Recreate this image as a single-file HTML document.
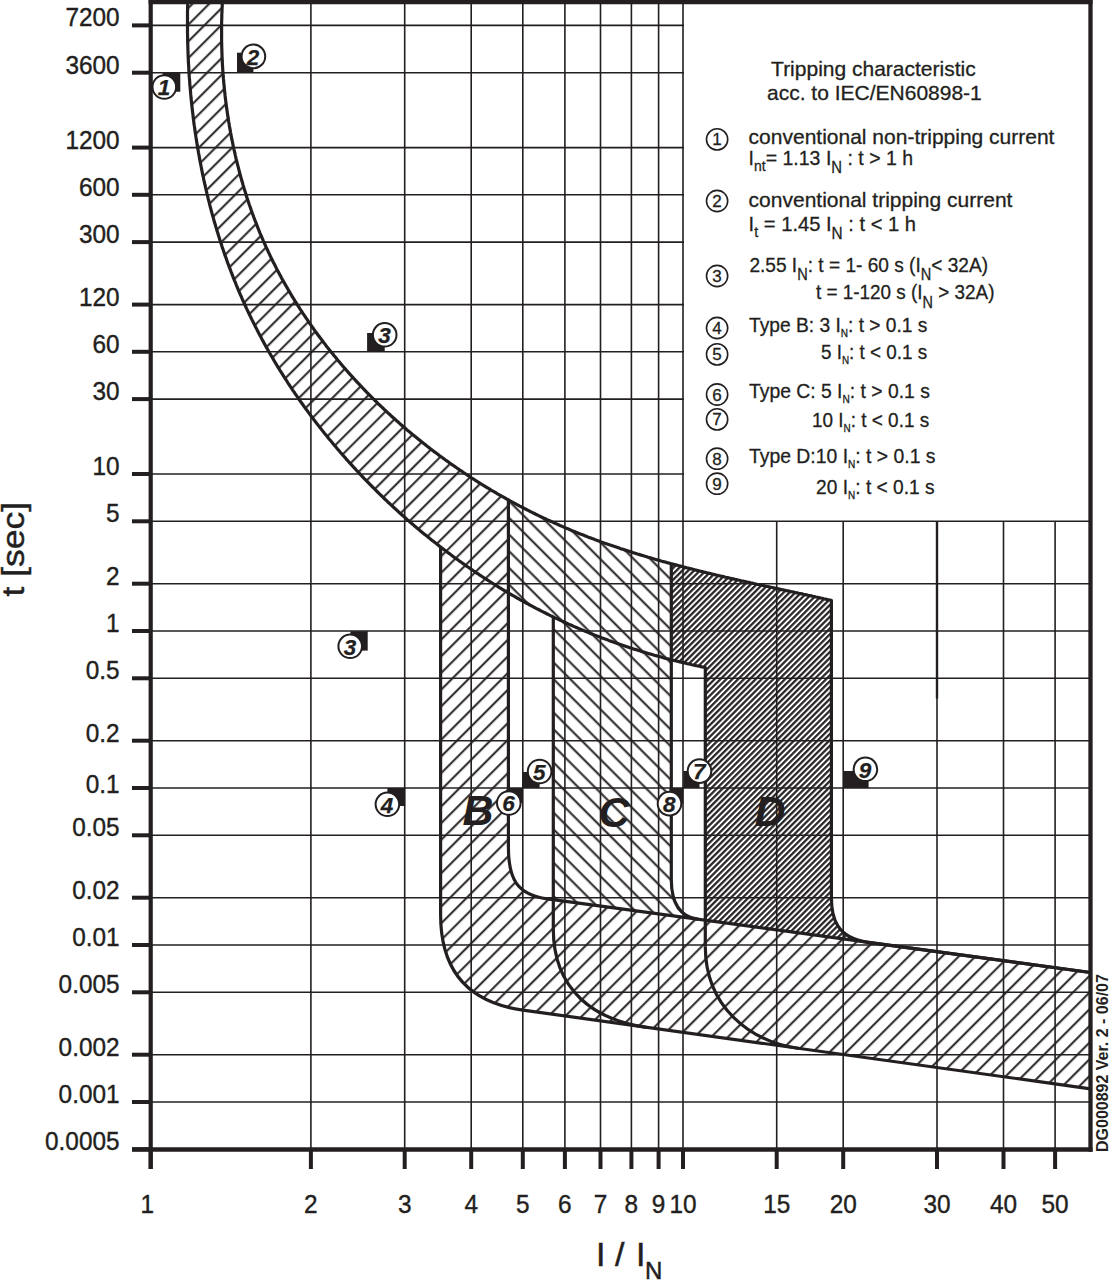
<!DOCTYPE html>
<html><head><meta charset="utf-8"><style>
html,body{margin:0;padding:0;background:#fff;width:1111px;height:1280px;overflow:hidden}
svg{display:block}
</style></head><body>
<svg width="1111" height="1280" viewBox="0 0 1111 1280">
<rect width="1111" height="1280" fill="#fff"/>
<g stroke="#231f20" stroke-width="1.6"><line x1="151" y1="25.4" x2="684" y2="25.4"/><line x1="151" y1="72.7" x2="684" y2="72.7"/><line x1="151" y1="147.6" x2="684" y2="147.6"/><line x1="151" y1="194.8" x2="684" y2="194.8"/><line x1="151" y1="242.1" x2="684" y2="242.1"/><line x1="151" y1="304.6" x2="684" y2="304.6"/><line x1="151" y1="351.8" x2="684" y2="351.8"/><line x1="151" y1="399.1" x2="684" y2="399.1"/><line x1="151" y1="474.0" x2="684" y2="474.0"/><line x1="151" y1="521.3" x2="1090.5" y2="521.3"/><line x1="151" y1="583.7" x2="1090.5" y2="583.7"/><line x1="151" y1="631.0" x2="1090.5" y2="631.0"/><line x1="151" y1="678.3" x2="1090.5" y2="678.3"/><line x1="151" y1="740.7" x2="1090.5" y2="740.7"/><line x1="151" y1="788.0" x2="1090.5" y2="788.0"/><line x1="151" y1="835.3" x2="1090.5" y2="835.3"/><line x1="151" y1="897.7" x2="1090.5" y2="897.7"/><line x1="151" y1="945.0" x2="1090.5" y2="945.0"/><line x1="151" y1="992.3" x2="1090.5" y2="992.3"/><line x1="151" y1="1054.7" x2="1090.5" y2="1054.7"/><line x1="151" y1="1102.0" x2="1090.5" y2="1102.0"/><line x1="310.9" y1="0" x2="310.9" y2="1149"/><line x1="404.7" y1="0" x2="404.7" y2="1149"/><line x1="471.2" y1="0" x2="471.2" y2="1149"/><line x1="522.8" y1="0" x2="522.8" y2="1149"/><line x1="564.9" y1="0" x2="564.9" y2="1149"/><line x1="600.5" y1="0" x2="600.5" y2="1149"/><line x1="631.4" y1="0" x2="631.4" y2="1149"/><line x1="658.6" y1="0" x2="658.6" y2="1149"/><line x1="683.0" y1="0" x2="683.0" y2="1149"/><line x1="776.7" y1="521.3" x2="776.7" y2="1149"/><line x1="843.2" y1="521.3" x2="843.2" y2="1149"/><line x1="937.0" y1="521.3" x2="937.0" y2="1149"/><line x1="1003.5" y1="521.3" x2="1003.5" y2="1149"/><line x1="1055.1" y1="521.3" x2="1055.1" y2="1149"/><line x1="937.0" y1="521.3" x2="937.0" y2="698.5" stroke-width="2.4"/></g>
<defs>
<clipPath id="cp"><rect x="151" y="3" width="939.5" height="1146"/></clipPath>
<pattern id="hA" patternUnits="userSpaceOnUse" width="11.80" height="20" patternTransform="rotate(45)">
<line x1="9.07" y1="-5" x2="9.07" y2="25" stroke="#231f20" stroke-width="2.0"/></pattern>
<pattern id="hC" patternUnits="userSpaceOnUse" width="11.80" height="20" patternTransform="rotate(-45)">
<line x1="5.58" y1="-5" x2="5.58" y2="25" stroke="#231f20" stroke-width="2.0"/></pattern>
<pattern id="hD" patternUnits="userSpaceOnUse" width="4.15" height="10" patternTransform="rotate(45)">
<line x1="2" y1="-5" x2="2" y2="15" stroke="#231f20" stroke-width="2.2"/></pattern>
</defs>
<g clip-path="url(#cp)">
<polygon points="188.0,-5.8 187.9,-4.3 187.9,-2.8 187.8,-1.2 187.8,0.3 187.7,1.8 187.7,3.4 187.7,4.9 187.6,6.4 187.6,8.0 187.6,9.5 187.5,11.0 187.5,12.6 187.5,14.1 187.5,15.7 187.5,17.2 187.5,18.7 187.5,20.3 187.5,21.8 187.5,23.4 187.5,24.9 187.5,26.4 187.5,28.0 187.5,29.5 187.5,31.1 187.5,32.6 187.5,34.1 187.6,35.7 187.6,37.2 187.6,38.8 187.6,40.3 187.7,41.9 187.7,43.4 187.8,45.0 187.8,46.5 187.9,48.0 187.9,49.6 188.0,51.1 188.0,52.7 188.1,54.2 188.1,55.8 188.2,57.3 188.3,58.9 188.3,60.4 188.4,61.9 188.5,63.5 188.6,65.0 188.7,66.6 188.8,68.1 188.8,69.7 188.9,71.2 189.0,72.8 189.1,74.3 189.2,75.9 189.3,77.4 189.5,78.9 189.6,80.5 189.7,82.0 189.8,83.6 189.9,85.1 190.1,86.7 190.2,88.2 190.3,89.8 190.5,91.3 190.6,92.8 190.7,94.4 190.9,95.9 191.0,97.5 191.2,99.0 191.3,100.6 191.5,102.1 191.6,103.6 191.8,105.2 192.0,106.7 192.2,108.3 192.3,109.8 192.5,111.3 192.7,112.9 192.9,114.4 193.1,116.0 193.2,117.5 193.4,119.0 193.6,120.6 193.8,122.1 194.0,123.7 194.2,125.2 194.5,126.7 194.7,128.3 194.9,129.8 195.1,131.3 195.3,132.9 195.6,134.4 195.8,135.9 196.0,137.5 196.3,139.0 196.5,140.5 196.7,142.1 197.0,143.6 197.2,145.1 197.5,146.7 197.7,148.2 198.0,149.7 198.3,151.3 198.5,152.8 198.8,154.3 199.1,155.8 199.4,157.4 199.6,158.9 199.9,160.4 200.2,161.9 200.5,163.5 200.8,165.0 201.1,166.5 201.4,168.0 201.7,169.6 202.0,171.1 202.3,172.6 202.6,174.1 202.9,175.6 203.3,177.2 203.6,178.7 203.9,180.2 204.2,181.7 204.6,183.2 204.9,184.7 205.3,186.2 205.6,187.8 206.0,189.3 206.3,190.8 206.7,192.3 207.0,193.8 207.4,195.3 207.8,196.8 208.1,198.3 208.5,199.8 208.9,201.3 209.3,202.8 209.6,204.3 210.0,205.8 210.4,207.3 210.8,208.8 211.2,210.3 211.6,211.8 212.0,213.3 212.4,214.8 212.8,216.3 213.3,217.8 213.7,219.3 214.1,220.8 214.5,222.3 215.0,223.7 215.4,225.2 215.8,226.7 216.3,228.2 216.7,229.7 217.2,231.2 217.6,232.6 218.1,234.1 218.5,235.6 219.0,237.1 219.5,238.5 219.9,240.0 220.4,241.5 220.9,243.0 221.4,244.4 221.8,245.9 222.3,247.4 222.8,248.8 223.3,250.3 223.8,251.8 224.3,253.2 224.8,254.7 225.3,256.2 225.9,257.6 226.4,259.1 226.9,260.5 227.4,262.0 227.9,263.4 228.5,264.9 229.0,266.3 229.6,267.8 230.1,269.2 230.7,270.7 231.2,272.1 231.8,273.6 232.3,275.0 232.9,276.4 233.4,277.9 234.0,279.3 234.6,280.8 235.2,282.2 235.8,283.6 236.3,285.0 236.9,286.5 237.5,287.9 238.1,289.3 238.7,290.8 239.3,292.2 239.9,293.6 240.5,295.0 241.2,296.4 241.8,297.8 242.4,299.3 243.0,300.7 243.7,302.1 244.3,303.5 244.9,304.9 245.6,306.3 246.2,307.7 246.9,309.1 247.5,310.5 248.2,311.9 248.8,313.3 249.5,314.7 250.2,316.1 250.9,317.5 251.5,318.9 252.2,320.3 252.9,321.6 253.6,323.0 254.3,324.4 255.0,325.8 255.7,327.2 256.4,328.5 257.1,329.9 257.8,331.3 258.5,332.7 259.2,334.0 259.9,335.4 260.7,336.8 261.4,338.1 262.1,339.5 262.9,340.8 263.6,342.2 264.3,343.6 265.1,344.9 265.8,346.3 266.6,347.6 267.4,349.0 268.1,350.3 268.9,351.7 269.6,353.0 270.4,354.3 271.2,355.7 272.0,357.0 272.8,358.3 273.5,359.7 274.3,361.0 275.1,362.3 275.9,363.7 276.7,365.0 277.5,366.3 278.3,367.6 279.1,368.9 279.9,370.3 280.8,371.6 281.6,372.9 282.4,374.2 283.2,375.5 284.1,376.8 284.9,378.1 285.7,379.4 286.6,380.7 287.4,382.0 288.2,383.3 289.1,384.6 289.9,385.9 290.8,387.2 291.7,388.5 292.5,389.8 293.4,391.1 294.3,392.3 295.1,393.6 296.0,394.9 296.9,396.2 297.8,397.4 298.6,398.7 299.5,400.0 300.4,401.3 301.3,402.5 302.2,403.8 303.1,405.0 304.0,406.3 304.9,407.6 305.8,408.8 306.7,410.1 307.7,411.3 308.6,412.6 309.5,413.8 310.4,415.0 311.3,416.3 312.3,417.5 313.2,418.8 314.1,420.0 315.1,421.2 316.0,422.5 317.0,423.7 317.9,424.9 318.9,426.1 319.8,427.4 320.8,428.6 321.7,429.8 322.7,431.0 323.7,432.2 324.6,433.4 325.6,434.6 326.6,435.8 327.6,437.0 328.5,438.2 329.5,439.4 330.5,440.6 331.5,441.8 332.5,443.0 333.5,444.2 334.5,445.4 335.5,446.6 336.5,447.8 337.5,449.0 338.5,450.1 339.5,451.3 340.5,452.5 341.5,453.6 342.5,454.8 343.6,456.0 344.6,457.1 345.6,458.3 346.6,459.5 347.7,460.6 348.7,461.8 349.7,462.9 350.8,464.1 351.8,465.2 352.9,466.4 353.9,467.5 355.0,468.6 356.0,469.8 357.1,470.9 358.1,472.1 359.2,473.2 360.2,474.3 361.3,475.4 362.4,476.6 363.4,477.7 364.5,478.8 365.6,479.9 366.7,481.0 367.8,482.1 368.8,483.2 369.9,484.3 371.0,485.4 372.1,486.5 373.2,487.6 374.3,488.7 375.4,489.8 376.5,490.9 377.6,492.0 378.7,493.1 379.8,494.2 380.9,495.3 382.0,496.3 383.1,497.4 384.2,498.5 385.3,499.5 386.5,500.6 387.6,501.7 388.7,502.7 389.8,503.8 391.0,504.9 392.1,505.9 393.2,507.0 394.4,508.0 395.5,509.1 396.7,510.1 397.8,511.1 398.9,512.2 400.1,513.2 401.2,514.2 402.4,515.3 403.5,516.3 404.7,517.3 405.9,518.4 407.0,519.4 408.2,520.4 409.3,521.4 410.5,522.4 411.7,523.4 412.9,524.4 414.0,525.4 415.2,526.4 416.4,527.4 417.6,528.4 418.8,529.4 419.9,530.4 421.1,531.4 422.3,532.4 423.5,533.4 424.7,534.4 425.9,535.3 427.1,536.3 428.3,537.3 429.5,538.3 430.7,539.2 431.9,540.2 433.1,541.1 434.3,542.1 435.6,543.1 436.8,544.0 438.0,545.0 439.2,545.9 440.4,546.9 440.6,547.0 440.6,914.8 440.6,914.8 440.7,919.4 440.9,923.9 441.2,928.2 441.6,932.4 442.2,936.5 442.8,940.5 443.6,944.4 444.5,948.1 445.6,951.7 446.7,955.2 448.0,958.5 449.3,961.8 450.8,964.9 452.4,968.0 454.1,970.9 455.9,973.7 457.8,976.4 459.8,978.9 461.9,981.4 464.1,983.8 466.4,986.0 468.8,988.2 471.3,990.3 473.9,992.2 476.5,994.1 479.3,995.8 482.2,997.5 485.1,999.0 488.1,1000.5 491.3,1001.9 494.5,1003.1 497.7,1004.3 501.1,1005.4 504.6,1006.4 508.1,1007.3 511.7,1008.2 515.4,1008.9 519.1,1009.6 522.9,1010.1 1090.5,1088.8 1090.5,972.5 547.3,898.8 544.9,898.4 542.7,898.0 540.5,897.6 538.5,897.1 536.5,896.6 534.6,896.0 532.8,895.3 531.0,894.6 529.4,893.9 527.8,893.1 526.3,892.3 524.8,891.4 523.5,890.4 522.2,889.5 520.9,888.4 519.8,887.3 518.7,886.2 517.7,885.0 516.7,883.7 515.8,882.4 515.0,881.0 514.2,879.6 513.5,878.1 512.8,876.6 512.2,875.0 511.6,873.4 511.1,871.7 510.6,869.9 510.2,868.1 509.9,866.2 509.5,864.3 509.3,862.3 509.0,860.3 508.8,858.2 508.7,856.0 508.5,853.8 508.5,851.5 508.4,849.2 508.4,846.8 508.4,499.9 508.4,499.9 507.2,499.3 505.8,498.5 504.4,497.7 503.0,496.9 501.7,496.2 500.3,495.4 498.9,494.6 497.5,493.8 496.2,493.0 494.8,492.2 493.4,491.4 492.0,490.6 490.7,489.8 489.3,488.9 488.0,488.1 486.6,487.3 485.2,486.5 483.9,485.6 482.5,484.8 481.2,484.0 479.8,483.1 478.5,482.3 477.1,481.4 475.8,480.6 474.5,479.7 473.1,478.8 471.8,478.0 470.5,477.1 469.1,476.2 467.8,475.4 466.5,474.5 465.1,473.6 463.8,472.7 462.5,471.8 461.2,470.9 459.8,470.0 458.5,469.1 457.2,468.2 455.9,467.3 454.6,466.4 453.3,465.5 452.0,464.6 450.7,463.7 449.4,462.8 448.1,461.8 446.8,460.9 445.5,460.0 444.2,459.0 442.9,458.1 441.6,457.1 440.3,456.2 439.0,455.3 437.8,454.3 436.5,453.3 435.2,452.4 433.9,451.4 432.7,450.5 431.4,449.5 430.1,448.5 428.9,447.5 427.6,446.6 426.3,445.6 425.1,444.6 423.8,443.6 422.6,442.6 421.3,441.6 420.1,440.6 418.8,439.6 417.6,438.6 416.4,437.6 415.1,436.6 413.9,435.5 412.6,434.5 411.4,433.5 410.2,432.5 409.0,431.4 407.7,430.4 406.5,429.4 405.3,428.3 404.1,427.3 402.9,426.3 401.7,425.2 400.5,424.2 399.3,423.1 398.1,422.0 396.9,421.0 395.7,419.9 394.5,418.8 393.3,417.8 392.1,416.7 390.9,415.6 389.8,414.5 388.6,413.5 387.4,412.4 386.2,411.3 385.1,410.2 383.9,409.1 382.8,408.0 381.6,406.9 380.4,405.8 379.3,404.7 378.1,403.6 377.0,402.4 375.9,401.3 374.7,400.2 373.6,399.1 372.4,398.0 371.3,396.8 370.2,395.7 369.1,394.6 367.9,393.4 366.8,392.3 365.7,391.1 364.6,390.0 363.5,388.8 362.4,387.7 361.3,386.5 360.2,385.4 359.1,384.2 358.0,383.0 356.9,381.9 355.8,380.7 354.8,379.5 353.7,378.3 352.6,377.1 351.5,376.0 350.5,374.8 349.4,373.6 348.3,372.4 347.3,371.2 346.2,370.0 345.2,368.8 344.1,367.6 343.1,366.4 342.1,365.2 341.0,363.9 340.0,362.7 339.0,361.5 337.9,360.3 336.9,359.1 335.9,357.8 334.9,356.6 333.9,355.4 332.9,354.1 331.9,352.9 330.9,351.7 329.9,350.4 328.9,349.2 327.9,347.9 326.9,346.7 325.9,345.4 325.0,344.1 324.0,342.9 323.0,341.6 322.1,340.3 321.1,339.1 320.1,337.8 319.2,336.5 318.2,335.2 317.3,334.0 316.4,332.7 315.4,331.4 314.5,330.1 313.6,328.8 312.6,327.5 311.7,326.2 310.8,324.9 309.9,323.6 309.0,322.3 308.1,321.0 307.2,319.7 306.3,318.4 305.4,317.0 304.5,315.7 303.6,314.4 302.7,313.1 301.9,311.7 301.0,310.4 300.1,309.1 299.3,307.7 298.4,306.4 297.6,305.1 296.7,303.7 295.9,302.4 295.0,301.0 294.2,299.7 293.4,298.3 292.5,297.0 291.7,295.6 290.9,294.2 290.1,292.9 289.3,291.5 288.5,290.1 287.7,288.8 286.9,287.4 286.1,286.0 285.3,284.6 284.5,283.2 283.7,281.9 283.0,280.5 282.2,279.1 281.4,277.7 280.7,276.3 279.9,274.9 279.2,273.5 278.4,272.1 277.7,270.7 276.9,269.3 276.2,267.9 275.5,266.4 274.8,265.0 274.1,263.6 273.3,262.2 272.6,260.8 271.9,259.3 271.2,257.9 270.5,256.5 269.9,255.1 269.2,253.6 268.5,252.2 267.8,250.7 267.2,249.3 266.5,247.9 265.8,246.4 265.2,245.0 264.5,243.5 263.9,242.0 263.2,240.6 262.6,239.1 262.0,237.7 261.4,236.2 260.7,234.7 260.1,233.3 259.5,231.8 258.9,230.3 258.3,228.8 257.7,227.4 257.1,225.9 256.6,224.4 256.0,222.9 255.4,221.4 254.8,219.9 254.3,218.5 253.7,217.0 253.2,215.5 252.6,214.0 252.1,212.5 251.5,211.0 251.0,209.5 250.5,208.0 250.0,206.5 249.4,205.0 248.9,203.4 248.4,201.9 247.9,200.4 247.4,198.9 246.9,197.4 246.4,195.9 245.9,194.3 245.5,192.8 245.0,191.3 244.5,189.8 244.0,188.2 243.6,186.7 243.1,185.2 242.7,183.6 242.2,182.1 241.8,180.6 241.4,179.0 240.9,177.5 240.5,176.0 240.1,174.4 239.7,172.9 239.3,171.3 238.9,169.8 238.5,168.2 238.1,166.7 237.7,165.1 237.3,163.6 236.9,162.0 236.5,160.5 236.1,158.9 235.8,157.4 235.4,155.8 235.1,154.2 234.7,152.7 234.4,151.1 234.0,149.6 233.7,148.0 233.3,146.4 233.0,144.9 232.7,143.3 232.4,141.7 232.0,140.2 231.7,138.6 231.4,137.0 231.1,135.4 230.8,133.9 230.5,132.3 230.3,130.7 230.0,129.1 229.7,127.6 229.4,126.0 229.2,124.4 228.9,122.8 228.6,121.3 228.4,119.7 228.1,118.1 227.9,116.5 227.6,114.9 227.4,113.3 227.2,111.8 227.0,110.2 226.7,108.6 226.5,107.0 226.3,105.4 226.1,103.8 225.9,102.2 225.7,100.7 225.5,99.1 225.3,97.5 225.1,95.9 225.0,94.3 224.8,92.7 224.6,91.1 224.4,89.5 224.3,87.9 224.1,86.3 224.0,84.7 223.8,83.1 223.7,81.6 223.6,80.0 223.4,78.4 223.3,76.8 223.2,75.2 223.0,73.6 222.9,72.0 222.8,70.4 222.7,68.8 222.6,67.2 222.5,65.6 222.4,64.0 222.3,62.4 222.3,60.8 222.2,59.2 222.1,57.6 222.0,56.0 222.0,54.4 221.9,52.9 221.9,51.3 221.8,49.7 221.8,48.1 221.7,46.5 221.7,44.9 221.7,43.3 221.6,41.7 221.6,40.1 221.6,38.5 221.6,36.9 221.6,35.3 221.6,33.7 221.6,32.1 221.6,30.6 221.6,29.0 221.6,27.4 221.6,25.8 221.6,24.2 221.6,22.6 221.7,21.0 221.7,19.4 221.8,17.8 221.8,16.3 221.8,14.7 221.9,13.1 222.0,11.5 222.0,9.9 222.1,8.3 222.2,6.7 222.2,5.2 222.3,3.6 222.4,2.0 222.5,0.4 222.6,-1.2 222.7,-2.7 222.8,-4.3 222.9,-5.9" fill="url(#hA)"/>
<polygon points="508.4,592.9 509.6,593.6 510.9,594.4 512.2,595.2 513.6,595.9 514.9,596.7 516.3,597.5 517.6,598.3 519.0,599.0 520.3,599.8 521.7,600.5 523.0,601.3 524.4,602.0 525.7,602.8 527.1,603.5 528.4,604.2 529.8,605.0 531.2,605.7 532.5,606.4 533.9,607.2 535.3,607.9 536.6,608.6 538.0,609.3 539.4,610.0 540.7,610.7 542.1,611.4 543.5,612.1 544.9,612.8 546.3,613.5 547.7,614.2 549.0,614.9 550.4,615.6 551.8,616.2 553.2,616.9 553.3,617.0 553.3,899.6 698.2,919.3 696.7,919.0 695.2,918.7 693.8,918.4 692.4,918.0 691.1,917.6 689.8,917.1 688.6,916.5 687.4,915.9 686.3,915.3 685.2,914.6 684.2,913.9 683.2,913.1 682.3,912.3 681.4,911.5 680.5,910.6 679.7,909.6 678.9,908.7 678.2,907.7 677.5,906.6 676.9,905.5 676.3,904.4 675.7,903.3 675.2,902.1 674.7,900.9 674.2,899.6 673.8,898.3 673.4,897.0 673.1,895.7 672.7,894.3 672.5,892.9 672.2,891.5 672.0,890.1 671.8,888.6 671.6,887.1 671.5,885.6 671.4,884.1 671.4,882.5 671.3,881.0 671.3,879.4 671.3,563.7 671.3,563.7 671.2,563.7 669.7,563.3 668.1,562.9 666.6,562.4 665.0,562.0 663.5,561.6 661.9,561.2 660.4,560.7 658.9,560.3 657.3,559.9 655.8,559.4 654.3,559.0 652.7,558.5 651.2,558.1 649.7,557.6 648.1,557.2 646.6,556.7 645.1,556.3 643.5,555.8 642.0,555.4 640.5,554.9 638.9,554.4 637.4,554.0 635.9,553.5 634.4,553.0 632.9,552.6 631.3,552.1 629.8,551.6 628.3,551.1 626.8,550.6 625.3,550.1 623.7,549.6 622.2,549.1 620.7,548.7 619.2,548.1 617.7,547.6 616.2,547.1 614.7,546.6 613.2,546.1 611.7,545.6 610.2,545.1 608.6,544.5 607.1,544.0 605.6,543.5 604.1,543.0 602.6,542.4 601.1,541.9 599.7,541.3 598.2,540.8 596.7,540.2 595.2,539.7 593.7,539.1 592.2,538.6 590.7,538.0 589.2,537.4 587.7,536.9 586.3,536.3 584.8,535.7 583.3,535.1 581.8,534.5 580.3,534.0 578.9,533.4 577.4,532.8 575.9,532.2 574.4,531.6 573.0,531.0 571.5,530.4 570.0,529.7 568.6,529.1 567.1,528.5 565.6,527.9 564.2,527.3 562.7,526.6 561.3,526.0 559.8,525.4 558.4,524.7 556.9,524.1 555.5,523.4 554.0,522.8 552.6,522.1 551.1,521.5 549.7,520.8 548.2,520.1 546.8,519.5 545.3,518.8 543.9,518.1 542.5,517.4 541.0,516.8 539.6,516.1 538.2,515.4 536.8,514.7 535.3,514.0 533.9,513.3 532.5,512.6 531.1,511.9 529.6,511.2 528.2,510.4 526.8,509.7 525.4,509.0 524.0,508.3 522.6,507.5 521.2,506.8 519.8,506.1 518.4,505.3 517.0,504.6 515.6,503.8 514.2,503.1 512.8,502.3 511.4,501.6 510.0,500.8 508.6,500.0 508.4,499.9" fill="url(#hC)"/>
<polygon points="671.3,659.8 672.3,660.0 673.8,660.4 675.3,660.8 676.8,661.1 678.3,661.5 679.8,661.9 681.3,662.2 682.8,662.6 684.3,663.0 685.8,663.3 687.3,663.7 688.8,664.0 690.3,664.3 691.8,664.7 693.3,665.0 694.9,665.4 696.4,665.7 697.9,666.0 699.4,666.3 700.9,666.6 702.4,667.0 703.9,667.3 705.3,667.5 705.3,920.2 867.8,942.3 865.4,941.9 863.2,941.5 861.0,941.0 859.0,940.5 857.0,939.9 855.1,939.3 853.3,938.6 851.7,937.8 850.1,937.0 848.5,936.2 847.1,935.3 845.7,934.3 844.5,933.3 843.3,932.3 842.1,931.2 841.1,930.1 840.1,929.0 839.1,927.8 838.3,926.6 837.5,925.3 836.7,924.0 836.1,922.7 835.4,921.4 834.9,920.0 834.4,918.6 833.9,917.2 833.5,915.7 833.1,914.3 832.8,912.8 832.5,911.3 832.2,909.8 832.0,908.2 831.8,906.7 831.7,905.1 831.6,903.6 831.5,902.0 831.4,900.4 831.4,898.8 831.4,897.2 831.4,600.4 831.4,600.4 831.3,600.4 829.8,600.0 828.3,599.7 826.7,599.4 825.2,599.0 823.6,598.7 822.1,598.3 820.5,598.0 819.0,597.6 817.4,597.3 815.9,597.0 814.4,596.6 812.8,596.3 811.3,595.9 809.7,595.6 808.2,595.3 806.6,594.9 805.1,594.6 803.5,594.3 802.0,593.9 800.4,593.6 798.8,593.3 797.3,592.9 795.7,592.6 794.2,592.2 792.6,591.9 791.1,591.6 789.5,591.2 788.0,590.9 786.4,590.6 784.8,590.2 783.3,589.9 781.7,589.6 780.2,589.2 778.6,588.9 777.1,588.6 775.5,588.2 773.9,587.9 772.4,587.5 770.8,587.2 769.3,586.9 767.7,586.5 766.1,586.2 764.6,585.9 763.0,585.5 761.5,585.2 759.9,584.8 758.3,584.5 756.8,584.2 755.2,583.8 753.7,583.5 752.1,583.1 750.5,582.8 749.0,582.4 747.4,582.1 745.9,581.7 744.3,581.4 742.7,581.0 741.2,580.7 739.6,580.3 738.0,580.0 736.5,579.6 734.9,579.3 733.4,578.9 731.8,578.6 730.2,578.2 728.7,577.9 727.1,577.5 725.6,577.2 724.0,576.8 722.4,576.4 720.9,576.1 719.3,575.7 717.8,575.3 716.2,575.0 714.7,574.6 713.1,574.2 711.5,573.9 710.0,573.5 708.4,573.1 706.9,572.8 705.3,572.4 703.8,572.0 702.2,571.6 700.6,571.2 699.1,570.9 697.5,570.5 696.0,570.1 694.4,569.7 692.9,569.3 691.3,568.9 689.8,568.5 688.2,568.1 686.7,567.8 685.1,567.4 683.6,567.0 682.0,566.6 680.5,566.1 678.9,565.7 677.4,565.3 675.8,564.9 674.3,564.5 672.7,564.1 671.3,563.7" fill="url(#hD)"/>
</g>
<g clip-path="url(#cp)" fill="none" stroke="#231f20" stroke-width="3.2" stroke-linejoin="round"><polyline points="188.0,-5.8 187.9,-4.3 187.9,-2.8 187.8,-1.2 187.8,0.3 187.7,1.8 187.7,3.4 187.7,4.9 187.6,6.4 187.6,8.0 187.6,9.5 187.5,11.0 187.5,12.6 187.5,14.1 187.5,15.7 187.5,17.2 187.5,18.7 187.5,20.3 187.5,21.8 187.5,23.4 187.5,24.9 187.5,26.4 187.5,28.0 187.5,29.5 187.5,31.1 187.5,32.6 187.5,34.1 187.6,35.7 187.6,37.2 187.6,38.8 187.6,40.3 187.7,41.9 187.7,43.4 187.8,45.0 187.8,46.5 187.9,48.0 187.9,49.6 188.0,51.1 188.0,52.7 188.1,54.2 188.1,55.8 188.2,57.3 188.3,58.9 188.3,60.4 188.4,61.9 188.5,63.5 188.6,65.0 188.7,66.6 188.8,68.1 188.8,69.7 188.9,71.2 189.0,72.8 189.1,74.3 189.2,75.9 189.3,77.4 189.5,78.9 189.6,80.5 189.7,82.0 189.8,83.6 189.9,85.1 190.1,86.7 190.2,88.2 190.3,89.8 190.5,91.3 190.6,92.8 190.7,94.4 190.9,95.9 191.0,97.5 191.2,99.0 191.3,100.6 191.5,102.1 191.6,103.6 191.8,105.2 192.0,106.7 192.2,108.3 192.3,109.8 192.5,111.3 192.7,112.9 192.9,114.4 193.1,116.0 193.2,117.5 193.4,119.0 193.6,120.6 193.8,122.1 194.0,123.7 194.2,125.2 194.5,126.7 194.7,128.3 194.9,129.8 195.1,131.3 195.3,132.9 195.6,134.4 195.8,135.9 196.0,137.5 196.3,139.0 196.5,140.5 196.7,142.1 197.0,143.6 197.2,145.1 197.5,146.7 197.7,148.2 198.0,149.7 198.3,151.3 198.5,152.8 198.8,154.3 199.1,155.8 199.4,157.4 199.6,158.9 199.9,160.4 200.2,161.9 200.5,163.5 200.8,165.0 201.1,166.5 201.4,168.0 201.7,169.6 202.0,171.1 202.3,172.6 202.6,174.1 202.9,175.6 203.3,177.2 203.6,178.7 203.9,180.2 204.2,181.7 204.6,183.2 204.9,184.7 205.3,186.2 205.6,187.8 206.0,189.3 206.3,190.8 206.7,192.3 207.0,193.8 207.4,195.3 207.8,196.8 208.1,198.3 208.5,199.8 208.9,201.3 209.3,202.8 209.6,204.3 210.0,205.8 210.4,207.3 210.8,208.8 211.2,210.3 211.6,211.8 212.0,213.3 212.4,214.8 212.8,216.3 213.3,217.8 213.7,219.3 214.1,220.8 214.5,222.3 215.0,223.7 215.4,225.2 215.8,226.7 216.3,228.2 216.7,229.7 217.2,231.2 217.6,232.6 218.1,234.1 218.5,235.6 219.0,237.1 219.5,238.5 219.9,240.0 220.4,241.5 220.9,243.0 221.4,244.4 221.8,245.9 222.3,247.4 222.8,248.8 223.3,250.3 223.8,251.8 224.3,253.2 224.8,254.7 225.3,256.2 225.9,257.6 226.4,259.1 226.9,260.5 227.4,262.0 227.9,263.4 228.5,264.9 229.0,266.3 229.6,267.8 230.1,269.2 230.7,270.7 231.2,272.1 231.8,273.6 232.3,275.0 232.9,276.4 233.4,277.9 234.0,279.3 234.6,280.8 235.2,282.2 235.8,283.6 236.3,285.0 236.9,286.5 237.5,287.9 238.1,289.3 238.7,290.8 239.3,292.2 239.9,293.6 240.5,295.0 241.2,296.4 241.8,297.8 242.4,299.3 243.0,300.7 243.7,302.1 244.3,303.5 244.9,304.9 245.6,306.3 246.2,307.7 246.9,309.1 247.5,310.5 248.2,311.9 248.8,313.3 249.5,314.7 250.2,316.1 250.9,317.5 251.5,318.9 252.2,320.3 252.9,321.6 253.6,323.0 254.3,324.4 255.0,325.8 255.7,327.2 256.4,328.5 257.1,329.9 257.8,331.3 258.5,332.7 259.2,334.0 259.9,335.4 260.7,336.8 261.4,338.1 262.1,339.5 262.9,340.8 263.6,342.2 264.3,343.6 265.1,344.9 265.8,346.3 266.6,347.6 267.4,349.0 268.1,350.3 268.9,351.7 269.6,353.0 270.4,354.3 271.2,355.7 272.0,357.0 272.8,358.3 273.5,359.7 274.3,361.0 275.1,362.3 275.9,363.7 276.7,365.0 277.5,366.3 278.3,367.6 279.1,368.9 279.9,370.3 280.8,371.6 281.6,372.9 282.4,374.2 283.2,375.5 284.1,376.8 284.9,378.1 285.7,379.4 286.6,380.7 287.4,382.0 288.2,383.3 289.1,384.6 289.9,385.9 290.8,387.2 291.7,388.5 292.5,389.8 293.4,391.1 294.3,392.3 295.1,393.6 296.0,394.9 296.9,396.2 297.8,397.4 298.6,398.7 299.5,400.0 300.4,401.3 301.3,402.5 302.2,403.8 303.1,405.0 304.0,406.3 304.9,407.6 305.8,408.8 306.7,410.1 307.7,411.3 308.6,412.6 309.5,413.8 310.4,415.0 311.3,416.3 312.3,417.5 313.2,418.8 314.1,420.0 315.1,421.2 316.0,422.5 317.0,423.7 317.9,424.9 318.9,426.1 319.8,427.4 320.8,428.6 321.7,429.8 322.7,431.0 323.7,432.2 324.6,433.4 325.6,434.6 326.6,435.8 327.6,437.0 328.5,438.2 329.5,439.4 330.5,440.6 331.5,441.8 332.5,443.0 333.5,444.2 334.5,445.4 335.5,446.6 336.5,447.8 337.5,449.0 338.5,450.1 339.5,451.3 340.5,452.5 341.5,453.6 342.5,454.8 343.6,456.0 344.6,457.1 345.6,458.3 346.6,459.5 347.7,460.6 348.7,461.8 349.7,462.9 350.8,464.1 351.8,465.2 352.9,466.4 353.9,467.5 355.0,468.6 356.0,469.8 357.1,470.9 358.1,472.1 359.2,473.2 360.2,474.3 361.3,475.4 362.4,476.6 363.4,477.7 364.5,478.8 365.6,479.9 366.7,481.0 367.8,482.1 368.8,483.2 369.9,484.3 371.0,485.4 372.1,486.5 373.2,487.6 374.3,488.7 375.4,489.8 376.5,490.9 377.6,492.0 378.7,493.1 379.8,494.2 380.9,495.3 382.0,496.3 383.1,497.4 384.2,498.5 385.3,499.5 386.5,500.6 387.6,501.7 388.7,502.7 389.8,503.8 391.0,504.9 392.1,505.9 393.2,507.0 394.4,508.0 395.5,509.1 396.7,510.1 397.8,511.1 398.9,512.2 400.1,513.2 401.2,514.2 402.4,515.3 403.5,516.3 404.7,517.3 405.9,518.4 407.0,519.4 408.2,520.4 409.3,521.4 410.5,522.4 411.7,523.4 412.9,524.4 414.0,525.4 415.2,526.4 416.4,527.4 417.6,528.4 418.8,529.4 419.9,530.4 421.1,531.4 422.3,532.4 423.5,533.4 424.7,534.4 425.9,535.3 427.1,536.3 428.3,537.3 429.5,538.3 430.7,539.2 431.9,540.2 433.1,541.1 434.3,542.1 435.6,543.1 436.8,544.0 438.0,545.0 439.2,545.9 440.4,546.9 441.7,547.8 442.9,548.7 444.1,549.7 445.4,550.6 446.6,551.6 447.8,552.5 449.1,553.4 450.3,554.3 451.5,555.2 452.8,556.2 454.0,557.1 455.3,558.0 456.5,558.9 457.8,559.8 459.0,560.7 460.3,561.6 461.6,562.5 462.8,563.4 464.1,564.3 465.3,565.2 466.6,566.1 467.9,567.0 469.2,567.8 470.4,568.7 471.7,569.6 473.0,570.5 474.3,571.3 475.5,572.2 476.8,573.1 478.1,573.9 479.4,574.8 480.7,575.6 482.0,576.5 483.3,577.3 484.6,578.2 485.9,579.0 487.2,579.9 488.5,580.7 489.8,581.5 491.1,582.3 492.4,583.2 493.7,584.0 495.0,584.8 496.3,585.6 497.6,586.4 499.0,587.3 500.3,588.1 501.6,588.9 502.9,589.7 504.3,590.5 505.6,591.3 506.9,592.0 508.2,592.8 509.6,593.6 510.9,594.4 512.2,595.2 513.6,595.9 514.9,596.7 516.3,597.5 517.6,598.3 519.0,599.0 520.3,599.8 521.7,600.5 523.0,601.3 524.4,602.0 525.7,602.8 527.1,603.5 528.4,604.2 529.8,605.0 531.2,605.7 532.5,606.4 533.9,607.2 535.3,607.9 536.6,608.6 538.0,609.3 539.4,610.0 540.7,610.7 542.1,611.4 543.5,612.1 544.9,612.8 546.3,613.5 547.7,614.2 549.0,614.9 550.4,615.6 551.8,616.2 553.2,616.9 554.6,617.6 556.0,618.2 557.4,618.9 558.8,619.6 560.2,620.2 561.6,620.9 563.0,621.5 564.4,622.2 565.8,622.8 567.2,623.4 568.6,624.1 570.0,624.7 571.4,625.3 572.9,626.0 574.3,626.6 575.7,627.2 577.1,627.8 578.5,628.4 580.0,629.0 581.4,629.6 582.8,630.2 584.2,630.8 585.7,631.4 587.1,632.0 588.5,632.6 590.0,633.2 591.4,633.7 592.8,634.3 594.3,634.9 595.7,635.4 597.1,636.0 598.6,636.6 600.0,637.1 601.5,637.7 602.9,638.2 604.4,638.8 605.8,639.3 607.3,639.8 608.7,640.4 610.2,640.9 611.6,641.4 613.1,641.9 614.5,642.5 616.0,643.0 617.5,643.5 618.9,644.0 620.4,644.5 621.8,645.0 623.3,645.5 624.8,646.0 626.2,646.5 627.7,647.0 629.2,647.5 630.6,648.0 632.1,648.4 633.6,648.9 635.1,649.4 636.5,649.8 638.0,650.3 639.5,650.8 641.0,651.2 642.4,651.7 643.9,652.1 645.4,652.6 646.9,653.0 648.4,653.5 649.9,653.9 651.3,654.3 652.8,654.7 654.3,655.2 655.8,655.6 657.3,656.0 658.8,656.4 660.3,656.8 661.8,657.2 663.3,657.7 664.8,658.1 666.3,658.5 667.8,658.8 669.3,659.2 670.8,659.6 672.3,660.0 673.8,660.4 675.3,660.8 676.8,661.1 678.3,661.5 679.8,661.9 681.3,662.2 682.8,662.6 684.3,663.0 685.8,663.3 687.3,663.7 688.8,664.0 690.3,664.3 691.8,664.7 693.3,665.0 694.9,665.4 696.4,665.7 697.9,666.0 699.4,666.3 700.9,666.6 702.4,667.0 703.9,667.3 705.3,667.5 705.3,946.2"/><path d="M705.3,946.2 C705.3,1007.5 750.6,1041.7 799.5,1048.5"/><polyline points="222.9,-5.9 222.8,-4.3 222.7,-2.7 222.6,-1.2 222.5,0.4 222.4,2.0 222.3,3.6 222.2,5.2 222.2,6.7 222.1,8.3 222.0,9.9 222.0,11.5 221.9,13.1 221.8,14.7 221.8,16.3 221.8,17.8 221.7,19.4 221.7,21.0 221.6,22.6 221.6,24.2 221.6,25.8 221.6,27.4 221.6,29.0 221.6,30.6 221.6,32.1 221.6,33.7 221.6,35.3 221.6,36.9 221.6,38.5 221.6,40.1 221.6,41.7 221.7,43.3 221.7,44.9 221.7,46.5 221.8,48.1 221.8,49.7 221.9,51.3 221.9,52.9 222.0,54.4 222.0,56.0 222.1,57.6 222.2,59.2 222.3,60.8 222.3,62.4 222.4,64.0 222.5,65.6 222.6,67.2 222.7,68.8 222.8,70.4 222.9,72.0 223.0,73.6 223.2,75.2 223.3,76.8 223.4,78.4 223.6,80.0 223.7,81.6 223.8,83.1 224.0,84.7 224.1,86.3 224.3,87.9 224.4,89.5 224.6,91.1 224.8,92.7 225.0,94.3 225.1,95.9 225.3,97.5 225.5,99.1 225.7,100.7 225.9,102.2 226.1,103.8 226.3,105.4 226.5,107.0 226.7,108.6 227.0,110.2 227.2,111.8 227.4,113.3 227.6,114.9 227.9,116.5 228.1,118.1 228.4,119.7 228.6,121.3 228.9,122.8 229.2,124.4 229.4,126.0 229.7,127.6 230.0,129.1 230.3,130.7 230.5,132.3 230.8,133.9 231.1,135.4 231.4,137.0 231.7,138.6 232.0,140.2 232.4,141.7 232.7,143.3 233.0,144.9 233.3,146.4 233.7,148.0 234.0,149.6 234.4,151.1 234.7,152.7 235.1,154.2 235.4,155.8 235.8,157.4 236.1,158.9 236.5,160.5 236.9,162.0 237.3,163.6 237.7,165.1 238.1,166.7 238.5,168.2 238.9,169.8 239.3,171.3 239.7,172.9 240.1,174.4 240.5,176.0 240.9,177.5 241.4,179.0 241.8,180.6 242.2,182.1 242.7,183.6 243.1,185.2 243.6,186.7 244.0,188.2 244.5,189.8 245.0,191.3 245.5,192.8 245.9,194.3 246.4,195.9 246.9,197.4 247.4,198.9 247.9,200.4 248.4,201.9 248.9,203.4 249.4,205.0 250.0,206.5 250.5,208.0 251.0,209.5 251.5,211.0 252.1,212.5 252.6,214.0 253.2,215.5 253.7,217.0 254.3,218.5 254.8,219.9 255.4,221.4 256.0,222.9 256.6,224.4 257.1,225.9 257.7,227.4 258.3,228.8 258.9,230.3 259.5,231.8 260.1,233.3 260.7,234.7 261.4,236.2 262.0,237.7 262.6,239.1 263.2,240.6 263.9,242.0 264.5,243.5 265.2,245.0 265.8,246.4 266.5,247.9 267.2,249.3 267.8,250.7 268.5,252.2 269.2,253.6 269.9,255.1 270.5,256.5 271.2,257.9 271.9,259.3 272.6,260.8 273.3,262.2 274.1,263.6 274.8,265.0 275.5,266.4 276.2,267.9 276.9,269.3 277.7,270.7 278.4,272.1 279.2,273.5 279.9,274.9 280.7,276.3 281.4,277.7 282.2,279.1 283.0,280.5 283.7,281.9 284.5,283.2 285.3,284.6 286.1,286.0 286.9,287.4 287.7,288.8 288.5,290.1 289.3,291.5 290.1,292.9 290.9,294.2 291.7,295.6 292.5,297.0 293.4,298.3 294.2,299.7 295.0,301.0 295.9,302.4 296.7,303.7 297.6,305.1 298.4,306.4 299.3,307.7 300.1,309.1 301.0,310.4 301.9,311.7 302.7,313.1 303.6,314.4 304.5,315.7 305.4,317.0 306.3,318.4 307.2,319.7 308.1,321.0 309.0,322.3 309.9,323.6 310.8,324.9 311.7,326.2 312.6,327.5 313.6,328.8 314.5,330.1 315.4,331.4 316.4,332.7 317.3,334.0 318.2,335.2 319.2,336.5 320.1,337.8 321.1,339.1 322.1,340.3 323.0,341.6 324.0,342.9 325.0,344.1 325.9,345.4 326.9,346.7 327.9,347.9 328.9,349.2 329.9,350.4 330.9,351.7 331.9,352.9 332.9,354.1 333.9,355.4 334.9,356.6 335.9,357.8 336.9,359.1 337.9,360.3 339.0,361.5 340.0,362.7 341.0,363.9 342.1,365.2 343.1,366.4 344.1,367.6 345.2,368.8 346.2,370.0 347.3,371.2 348.3,372.4 349.4,373.6 350.5,374.8 351.5,376.0 352.6,377.1 353.7,378.3 354.8,379.5 355.8,380.7 356.9,381.9 358.0,383.0 359.1,384.2 360.2,385.4 361.3,386.5 362.4,387.7 363.5,388.8 364.6,390.0 365.7,391.1 366.8,392.3 367.9,393.4 369.1,394.6 370.2,395.7 371.3,396.8 372.4,398.0 373.6,399.1 374.7,400.2 375.9,401.3 377.0,402.4 378.1,403.6 379.3,404.7 380.4,405.8 381.6,406.9 382.8,408.0 383.9,409.1 385.1,410.2 386.2,411.3 387.4,412.4 388.6,413.5 389.8,414.5 390.9,415.6 392.1,416.7 393.3,417.8 394.5,418.8 395.7,419.9 396.9,421.0 398.1,422.0 399.3,423.1 400.5,424.2 401.7,425.2 402.9,426.3 404.1,427.3 405.3,428.3 406.5,429.4 407.7,430.4 409.0,431.4 410.2,432.5 411.4,433.5 412.6,434.5 413.9,435.5 415.1,436.6 416.4,437.6 417.6,438.6 418.8,439.6 420.1,440.6 421.3,441.6 422.6,442.6 423.8,443.6 425.1,444.6 426.3,445.6 427.6,446.6 428.9,447.5 430.1,448.5 431.4,449.5 432.7,450.5 433.9,451.4 435.2,452.4 436.5,453.3 437.8,454.3 439.0,455.3 440.3,456.2 441.6,457.1 442.9,458.1 444.2,459.0 445.5,460.0 446.8,460.9 448.1,461.8 449.4,462.8 450.7,463.7 452.0,464.6 453.3,465.5 454.6,466.4 455.9,467.3 457.2,468.2 458.5,469.1 459.8,470.0 461.2,470.9 462.5,471.8 463.8,472.7 465.1,473.6 466.5,474.5 467.8,475.4 469.1,476.2 470.5,477.1 471.8,478.0 473.1,478.8 474.5,479.7 475.8,480.6 477.1,481.4 478.5,482.3 479.8,483.1 481.2,484.0 482.5,484.8 483.9,485.6 485.2,486.5 486.6,487.3 488.0,488.1 489.3,488.9 490.7,489.8 492.0,490.6 493.4,491.4 494.8,492.2 496.2,493.0 497.5,493.8 498.9,494.6 500.3,495.4 501.7,496.2 503.0,496.9 504.4,497.7 505.8,498.5 507.2,499.3 508.6,500.0 510.0,500.8 511.4,501.6 512.8,502.3 514.2,503.1 515.6,503.8 517.0,504.6 518.4,505.3 519.8,506.1 521.2,506.8 522.6,507.5 524.0,508.3 525.4,509.0 526.8,509.7 528.2,510.4 529.6,511.2 531.1,511.9 532.5,512.6 533.9,513.3 535.3,514.0 536.8,514.7 538.2,515.4 539.6,516.1 541.0,516.8 542.5,517.4 543.9,518.1 545.3,518.8 546.8,519.5 548.2,520.1 549.7,520.8 551.1,521.5 552.6,522.1 554.0,522.8 555.5,523.4 556.9,524.1 558.4,524.7 559.8,525.4 561.3,526.0 562.7,526.6 564.2,527.3 565.6,527.9 567.1,528.5 568.6,529.1 570.0,529.7 571.5,530.4 573.0,531.0 574.4,531.6 575.9,532.2 577.4,532.8 578.9,533.4 580.3,534.0 581.8,534.5 583.3,535.1 584.8,535.7 586.3,536.3 587.7,536.9 589.2,537.4 590.7,538.0 592.2,538.6 593.7,539.1 595.2,539.7 596.7,540.2 598.2,540.8 599.7,541.3 601.1,541.9 602.6,542.4 604.1,543.0 605.6,543.5 607.1,544.0 608.6,544.5 610.2,545.1 611.7,545.6 613.2,546.1 614.7,546.6 616.2,547.1 617.7,547.6 619.2,548.1 620.7,548.7 622.2,549.1 623.7,549.6 625.3,550.1 626.8,550.6 628.3,551.1 629.8,551.6 631.3,552.1 632.9,552.6 634.4,553.0 635.9,553.5 637.4,554.0 638.9,554.4 640.5,554.9 642.0,555.4 643.5,555.8 645.1,556.3 646.6,556.7 648.1,557.2 649.7,557.6 651.2,558.1 652.7,558.5 654.3,559.0 655.8,559.4 657.3,559.9 658.9,560.3 660.4,560.7 661.9,561.2 663.5,561.6 665.0,562.0 666.6,562.4 668.1,562.9 669.7,563.3 671.2,563.7 672.7,564.1 674.3,564.5 675.8,564.9 677.4,565.3 678.9,565.7 680.5,566.1 682.0,566.6 683.6,567.0 685.1,567.4 686.7,567.8 688.2,568.1 689.8,568.5 691.3,568.9 692.9,569.3 694.4,569.7 696.0,570.1 697.5,570.5 699.1,570.9 700.6,571.2 702.2,571.6 703.8,572.0 705.3,572.4 706.9,572.8 708.4,573.1 710.0,573.5 711.5,573.9 713.1,574.2 714.7,574.6 716.2,575.0 717.8,575.3 719.3,575.7 720.9,576.1 722.4,576.4 724.0,576.8 725.6,577.2 727.1,577.5 728.7,577.9 730.2,578.2 731.8,578.6 733.4,578.9 734.9,579.3 736.5,579.6 738.0,580.0 739.6,580.3 741.2,580.7 742.7,581.0 744.3,581.4 745.9,581.7 747.4,582.1 749.0,582.4 750.5,582.8 752.1,583.1 753.7,583.5 755.2,583.8 756.8,584.2 758.3,584.5 759.9,584.8 761.5,585.2 763.0,585.5 764.6,585.9 766.1,586.2 767.7,586.5 769.3,586.9 770.8,587.2 772.4,587.5 773.9,587.9 775.5,588.2 777.1,588.6 778.6,588.9 780.2,589.2 781.7,589.6 783.3,589.9 784.8,590.2 786.4,590.6 788.0,590.9 789.5,591.2 791.1,591.6 792.6,591.9 794.2,592.2 795.7,592.6 797.3,592.9 798.8,593.3 800.4,593.6 802.0,593.9 803.5,594.3 805.1,594.6 806.6,594.9 808.2,595.3 809.7,595.6 811.3,595.9 812.8,596.3 814.4,596.6 815.9,597.0 817.4,597.3 819.0,597.6 820.5,598.0 822.1,598.3 823.6,598.7 825.2,599.0 826.7,599.4 828.3,599.7 829.8,600.0 831.3,600.4 831.4,600.4 831.4,897.2"/><path d="M831.4,897.2 C831.4,918.0 836.5,938.0 867.8,942.3 L1090.5,972.5"/><path d="M440.6,547.0 L440.6,914.8 C440.6,975.5 472.8,1003.2 522.9,1010.1 L1090.5,1088.8"/><path d="M508.4,499.9 L508.4,846.8 C508.4,878.4 516.4,894.6 547.3,898.8 L1090.5,972.5"/><path d="M553.3,617.0 L553.3,929.1 C553.3,990.9 595.2,1020.2 646.4,1027.3"/><path d="M671.3,563.7 L671.3,879.4 C671.3,900.1 678.0,916.5 698.2,919.3"/></g>
<g stroke="#231f20"><line x1="150.7" y1="0" x2="150.7" y2="1169" stroke-width="4.2"/><line x1="132" y1="1149.5" x2="1092.5" y2="1149.5" stroke-width="4.4"/><line x1="148.6" y1="2.1" x2="1092.5" y2="2.1" stroke-width="4.3"/><line x1="1090.5" y1="0" x2="1090.5" y2="1151.7" stroke-width="4.3"/><line x1="132" y1="25.4" x2="151" y2="25.4" stroke-width="4"/><line x1="132" y1="72.7" x2="151" y2="72.7" stroke-width="4"/><line x1="132" y1="147.6" x2="151" y2="147.6" stroke-width="4"/><line x1="132" y1="194.8" x2="151" y2="194.8" stroke-width="4"/><line x1="132" y1="242.1" x2="151" y2="242.1" stroke-width="4"/><line x1="132" y1="304.6" x2="151" y2="304.6" stroke-width="4"/><line x1="132" y1="351.8" x2="151" y2="351.8" stroke-width="4"/><line x1="132" y1="399.1" x2="151" y2="399.1" stroke-width="4"/><line x1="132" y1="474.0" x2="151" y2="474.0" stroke-width="4"/><line x1="132" y1="521.3" x2="151" y2="521.3" stroke-width="4"/><line x1="132" y1="583.7" x2="151" y2="583.7" stroke-width="4"/><line x1="132" y1="631.0" x2="151" y2="631.0" stroke-width="4"/><line x1="132" y1="678.3" x2="151" y2="678.3" stroke-width="4"/><line x1="132" y1="740.7" x2="151" y2="740.7" stroke-width="4"/><line x1="132" y1="788.0" x2="151" y2="788.0" stroke-width="4"/><line x1="132" y1="835.3" x2="151" y2="835.3" stroke-width="4"/><line x1="132" y1="897.7" x2="151" y2="897.7" stroke-width="4"/><line x1="132" y1="945.0" x2="151" y2="945.0" stroke-width="4"/><line x1="132" y1="992.3" x2="151" y2="992.3" stroke-width="4"/><line x1="132" y1="1054.7" x2="151" y2="1054.7" stroke-width="4"/><line x1="132" y1="1102.0" x2="151" y2="1102.0" stroke-width="4"/><line x1="132" y1="1149.3" x2="151" y2="1149.3" stroke-width="4"/><line x1="150.7" y1="1149" x2="150.7" y2="1169" stroke-width="4"/><line x1="310.9" y1="1149" x2="310.9" y2="1169" stroke-width="4"/><line x1="404.7" y1="1149" x2="404.7" y2="1169" stroke-width="4"/><line x1="471.2" y1="1149" x2="471.2" y2="1169" stroke-width="4"/><line x1="522.8" y1="1149" x2="522.8" y2="1169" stroke-width="4"/><line x1="564.9" y1="1149" x2="564.9" y2="1169" stroke-width="4"/><line x1="600.5" y1="1149" x2="600.5" y2="1169" stroke-width="4"/><line x1="631.4" y1="1149" x2="631.4" y2="1169" stroke-width="4"/><line x1="658.6" y1="1149" x2="658.6" y2="1169" stroke-width="4"/><line x1="683.0" y1="1149" x2="683.0" y2="1169" stroke-width="4"/><line x1="776.7" y1="1149" x2="776.7" y2="1169" stroke-width="4"/><line x1="843.2" y1="1149" x2="843.2" y2="1169" stroke-width="4"/><line x1="937.0" y1="1149" x2="937.0" y2="1169" stroke-width="4"/><line x1="1003.5" y1="1149" x2="1003.5" y2="1169" stroke-width="4"/><line x1="1055.1" y1="1149" x2="1055.1" y2="1169" stroke-width="4"/></g>
<g font-family="Liberation Sans" font-size="26.5" fill="#231f20" stroke="#231f20" stroke-width="0.4"><text transform="translate(119.6,26.4) scale(0.92,1)" text-anchor="end">7200</text><text transform="translate(119.6,73.7) scale(0.92,1)" text-anchor="end">3600</text><text transform="translate(119.6,148.6) scale(0.92,1)" text-anchor="end">1200</text><text transform="translate(119.6,195.8) scale(0.92,1)" text-anchor="end">600</text><text transform="translate(119.6,243.1) scale(0.92,1)" text-anchor="end">300</text><text transform="translate(119.6,305.6) scale(0.92,1)" text-anchor="end">120</text><text transform="translate(119.6,352.8) scale(0.92,1)" text-anchor="end">60</text><text transform="translate(119.6,400.1) scale(0.92,1)" text-anchor="end">30</text><text transform="translate(119.6,475.0) scale(0.92,1)" text-anchor="end">10</text><text transform="translate(119.6,522.3) scale(0.92,1)" text-anchor="end">5</text><text transform="translate(119.6,584.7) scale(0.92,1)" text-anchor="end">2</text><text transform="translate(119.6,632.0) scale(0.92,1)" text-anchor="end">1</text><text transform="translate(119.6,679.3) scale(0.92,1)" text-anchor="end">0.5</text><text transform="translate(119.6,741.7) scale(0.92,1)" text-anchor="end">0.2</text><text transform="translate(119.6,793.0) scale(0.92,1)" text-anchor="end">0.1</text><text transform="translate(119.6,836.3) scale(0.92,1)" text-anchor="end">0.05</text><text transform="translate(119.6,898.7) scale(0.92,1)" text-anchor="end">0.02</text><text transform="translate(119.6,946.0) scale(0.92,1)" text-anchor="end">0.01</text><text transform="translate(119.6,993.3) scale(0.92,1)" text-anchor="end">0.005</text><text transform="translate(119.6,1055.7) scale(0.92,1)" text-anchor="end">0.002</text><text transform="translate(119.6,1103.0) scale(0.92,1)" text-anchor="end">0.001</text><text transform="translate(119.6,1150.3) scale(0.92,1)" text-anchor="end">0.0005</text><text transform="translate(147.2,1213) scale(0.92,1)" text-anchor="middle">1</text><text transform="translate(310.9,1213) scale(0.92,1)" text-anchor="middle">2</text><text transform="translate(404.7,1213) scale(0.92,1)" text-anchor="middle">3</text><text transform="translate(471.2,1213) scale(0.92,1)" text-anchor="middle">4</text><text transform="translate(522.8,1213) scale(0.92,1)" text-anchor="middle">5</text><text transform="translate(564.9,1213) scale(0.92,1)" text-anchor="middle">6</text><text transform="translate(600.5,1213) scale(0.92,1)" text-anchor="middle">7</text><text transform="translate(631.4,1213) scale(0.92,1)" text-anchor="middle">8</text><text transform="translate(658.6,1213) scale(0.92,1)" text-anchor="middle">9</text><text transform="translate(683.0,1213) scale(0.92,1)" text-anchor="middle">10</text><text transform="translate(776.7,1213) scale(0.92,1)" text-anchor="middle">15</text><text transform="translate(843.2,1213) scale(0.92,1)" text-anchor="middle">20</text><text transform="translate(937.0,1213) scale(0.92,1)" text-anchor="middle">30</text><text transform="translate(1003.5,1213) scale(0.92,1)" text-anchor="middle">40</text><text transform="translate(1055.1,1213) scale(0.92,1)" text-anchor="middle">50</text></g>
<text transform="translate(24.4,596.5) rotate(-90) scale(1.015,0.91)" font-family="Liberation Sans" font-size="35" fill="#231f20" stroke="#231f20" stroke-width="0.5">t [sec]</text>
<g font-family="Liberation Sans" fill="#231f20" stroke="#231f20" stroke-width="0.5"><text x="596" y="1266" font-size="34">I /</text><text x="636" y="1266" font-size="34">I</text><text x="645" y="1279" font-size="24">N</text></g>
<text transform="translate(1108,1152) rotate(-90)" font-family="Liberation Sans" font-weight="bold" font-size="16" fill="#231f20">DG000892 Ver. 2 - 06/07</text>
<g font-family="Liberation Sans" font-weight="bold" font-style="italic" font-size="43" fill="#231f20" text-anchor="middle"><text x="478" y="825">B</text><text x="614" y="827">C</text><text x="770" y="826">D</text></g>
<g><rect x="162.7" y="72.0" width="17.6" height="19.7" fill="#231f20"/><rect x="237.0" y="52.7" width="16.4" height="19.3" fill="#231f20"/><rect x="367.1" y="333.0" width="17.6" height="18.4" fill="#231f20"/><rect x="350.4" y="631.2" width="17.3" height="19.4" fill="#231f20"/><rect x="387.4" y="788.0" width="17.8" height="18.0" fill="#231f20"/><rect x="523.0" y="772.0" width="16.6" height="16.0" fill="#231f20"/><rect x="509.0" y="788.0" width="14.0" height="15.0" fill="#231f20"/><rect x="683.3" y="771.0" width="16.2" height="17.0" fill="#231f20"/><rect x="669.5" y="788.0" width="13.8" height="15.6" fill="#231f20"/><rect x="843.8" y="771.0" width="24.8" height="17.0" fill="#231f20"/><circle cx="164.3" cy="87.0" r="11.8" fill="#fff" stroke="#231f20" stroke-width="2"/><text x="164.0" y="95.3" text-anchor="middle" font-family="Liberation Sans" font-weight="bold" font-style="italic" font-size="22.5" fill="#231f20" stroke="#231f20" stroke-width="0.25">1</text><circle cx="253.4" cy="56.4" r="11.8" fill="#fff" stroke="#231f20" stroke-width="2"/><text x="253.1" y="64.7" text-anchor="middle" font-family="Liberation Sans" font-weight="bold" font-style="italic" font-size="22.5" fill="#231f20" stroke="#231f20" stroke-width="0.25">2</text><circle cx="384.7" cy="334.8" r="11.8" fill="#fff" stroke="#231f20" stroke-width="2"/><text x="384.4" y="343.1" text-anchor="middle" font-family="Liberation Sans" font-weight="bold" font-style="italic" font-size="22.5" fill="#231f20" stroke="#231f20" stroke-width="0.25">3</text><circle cx="350.2" cy="646.3" r="11.8" fill="#fff" stroke="#231f20" stroke-width="2"/><text x="349.9" y="654.6" text-anchor="middle" font-family="Liberation Sans" font-weight="bold" font-style="italic" font-size="22.5" fill="#231f20" stroke="#231f20" stroke-width="0.25">3</text><circle cx="387.4" cy="804.3" r="11.8" fill="#fff" stroke="#231f20" stroke-width="2"/><text x="387.1" y="812.6" text-anchor="middle" font-family="Liberation Sans" font-weight="bold" font-style="italic" font-size="22.5" fill="#231f20" stroke="#231f20" stroke-width="0.25">4</text><circle cx="539.6" cy="771.5" r="11.8" fill="#fff" stroke="#231f20" stroke-width="2"/><text x="539.3" y="779.8" text-anchor="middle" font-family="Liberation Sans" font-weight="bold" font-style="italic" font-size="22.5" fill="#231f20" stroke="#231f20" stroke-width="0.25">5</text><circle cx="508.8" cy="803.0" r="11.8" fill="#fff" stroke="#231f20" stroke-width="2"/><text x="508.5" y="811.3" text-anchor="middle" font-family="Liberation Sans" font-weight="bold" font-style="italic" font-size="22.5" fill="#231f20" stroke="#231f20" stroke-width="0.25">6</text><circle cx="699.5" cy="771.1" r="11.8" fill="#fff" stroke="#231f20" stroke-width="2"/><text x="699.2" y="779.4" text-anchor="middle" font-family="Liberation Sans" font-weight="bold" font-style="italic" font-size="22.5" fill="#231f20" stroke="#231f20" stroke-width="0.25">7</text><circle cx="669.5" cy="803.6" r="11.8" fill="#fff" stroke="#231f20" stroke-width="2"/><text x="669.2" y="811.9" text-anchor="middle" font-family="Liberation Sans" font-weight="bold" font-style="italic" font-size="22.5" fill="#231f20" stroke="#231f20" stroke-width="0.25">8</text><circle cx="865.4" cy="769.3" r="11.8" fill="#fff" stroke="#231f20" stroke-width="2"/><text x="865.1" y="777.6" text-anchor="middle" font-family="Liberation Sans" font-weight="bold" font-style="italic" font-size="22.5" fill="#231f20" stroke="#231f20" stroke-width="0.25">9</text></g>
<g font-family="Liberation Sans" fill="#231f20" stroke="#231f20" stroke-width="0.3"><text x="873.4" y="76" text-anchor="middle" font-size="21">Tripping characteristic</text><text x="874.4" y="100" text-anchor="middle" font-size="21">acc. to IEC/EN60898-1</text><circle cx="717.1" cy="139.4" r="10.6" fill="none" stroke="#231f20" stroke-width="1.6"/><text x="717.1" y="145.4" text-anchor="middle" font-size="17">1</text><circle cx="717.1" cy="201" r="10.6" fill="none" stroke="#231f20" stroke-width="1.6"/><text x="717.1" y="207" text-anchor="middle" font-size="17">2</text><circle cx="717.1" cy="276" r="10.6" fill="none" stroke="#231f20" stroke-width="1.6"/><text x="717.1" y="282" text-anchor="middle" font-size="17">3</text><circle cx="717.1" cy="328" r="10.6" fill="none" stroke="#231f20" stroke-width="1.6"/><text x="717.1" y="334" text-anchor="middle" font-size="17">4</text><circle cx="717.1" cy="354.4" r="10.6" fill="none" stroke="#231f20" stroke-width="1.6"/><text x="717.1" y="360.4" text-anchor="middle" font-size="17">5</text><circle cx="717.1" cy="394.5" r="10.6" fill="none" stroke="#231f20" stroke-width="1.6"/><text x="717.1" y="400.5" text-anchor="middle" font-size="17">6</text><circle cx="717.1" cy="419.4" r="10.6" fill="none" stroke="#231f20" stroke-width="1.6"/><text x="717.1" y="425.4" text-anchor="middle" font-size="17">7</text><circle cx="717.1" cy="458.7" r="10.6" fill="none" stroke="#231f20" stroke-width="1.6"/><text x="717.1" y="464.7" text-anchor="middle" font-size="17">8</text><circle cx="717.1" cy="483.7" r="10.6" fill="none" stroke="#231f20" stroke-width="1.6"/><text x="717.1" y="489.7" text-anchor="middle" font-size="17">9</text><text transform="translate(748.6,144.3) scale(1.0,1)" font-size="21">conventional non-tripping current</text><text transform="translate(748.6,165) scale(0.93,1)" font-size="21">I<tspan dy="6" font-size="15">nt</tspan><tspan dy="-6">= 1.13 I<tspan dy="8" font-size="16">N</tspan><tspan dy="-8"> : t &gt; 1 h</tspan></tspan></text><text transform="translate(748.6,207.3) scale(1.0,1)" font-size="21">conventional tripping current</text><text transform="translate(748.6,230.7) scale(0.96,1)" font-size="21">I<tspan dy="6.5" font-size="15">t</tspan><tspan dy="-6.5"> = 1.45 I<tspan dy="8.5" font-size="16">N</tspan><tspan dy="-8.5"> : t &lt; 1 h</tspan></tspan></text><text transform="translate(749.4,271.6) scale(0.91,1)" font-size="21">2.55 I<tspan dy="8.5" font-size="16">N</tspan><tspan dy="-8.5">: t = 1- 60 s (I<tspan dy="8.5" font-size="16">N</tspan><tspan dy="-8.5">&lt; 32A)</tspan></tspan></text><text transform="translate(816,299.3) scale(0.9,1)" font-size="21">t = 1-120 s (I<tspan dy="8.5" font-size="16">N</tspan><tspan dy="-8.5"> &gt; 32A)</tspan></text><text transform="translate(749,331.7) scale(0.914,1)" font-size="21">Type B: 3 I<tspan dy="5" font-size="11">N</tspan><tspan dy="-5">: t &gt; 0.1 s</tspan></text><text transform="translate(821,359.4) scale(0.899,1)" font-size="21">5 I<tspan dy="5" font-size="11">N</tspan><tspan dy="-5">: t &lt; 0.1 s</tspan></text><text transform="translate(749,398.3) scale(0.921,1)" font-size="21">Type C: 5 I<tspan dy="5" font-size="11">N</tspan><tspan dy="-5">: t &gt; 0.1 s</tspan></text><text transform="translate(812,427) scale(0.902,1)" font-size="21">10 I<tspan dy="5" font-size="11">N</tspan><tspan dy="-5">: t &lt; 0.1 s</tspan></text><text transform="translate(749,463) scale(0.923,1)" font-size="21">Type D:10 I<tspan dy="5" font-size="11">N</tspan><tspan dy="-5">: t &gt; 0.1 s</tspan></text><text transform="translate(816,493.6) scale(0.913,1)" font-size="21">20 I<tspan dy="5" font-size="11">N</tspan><tspan dy="-5">: t &lt; 0.1 s</tspan></text></g>
</svg>
</body></html>
